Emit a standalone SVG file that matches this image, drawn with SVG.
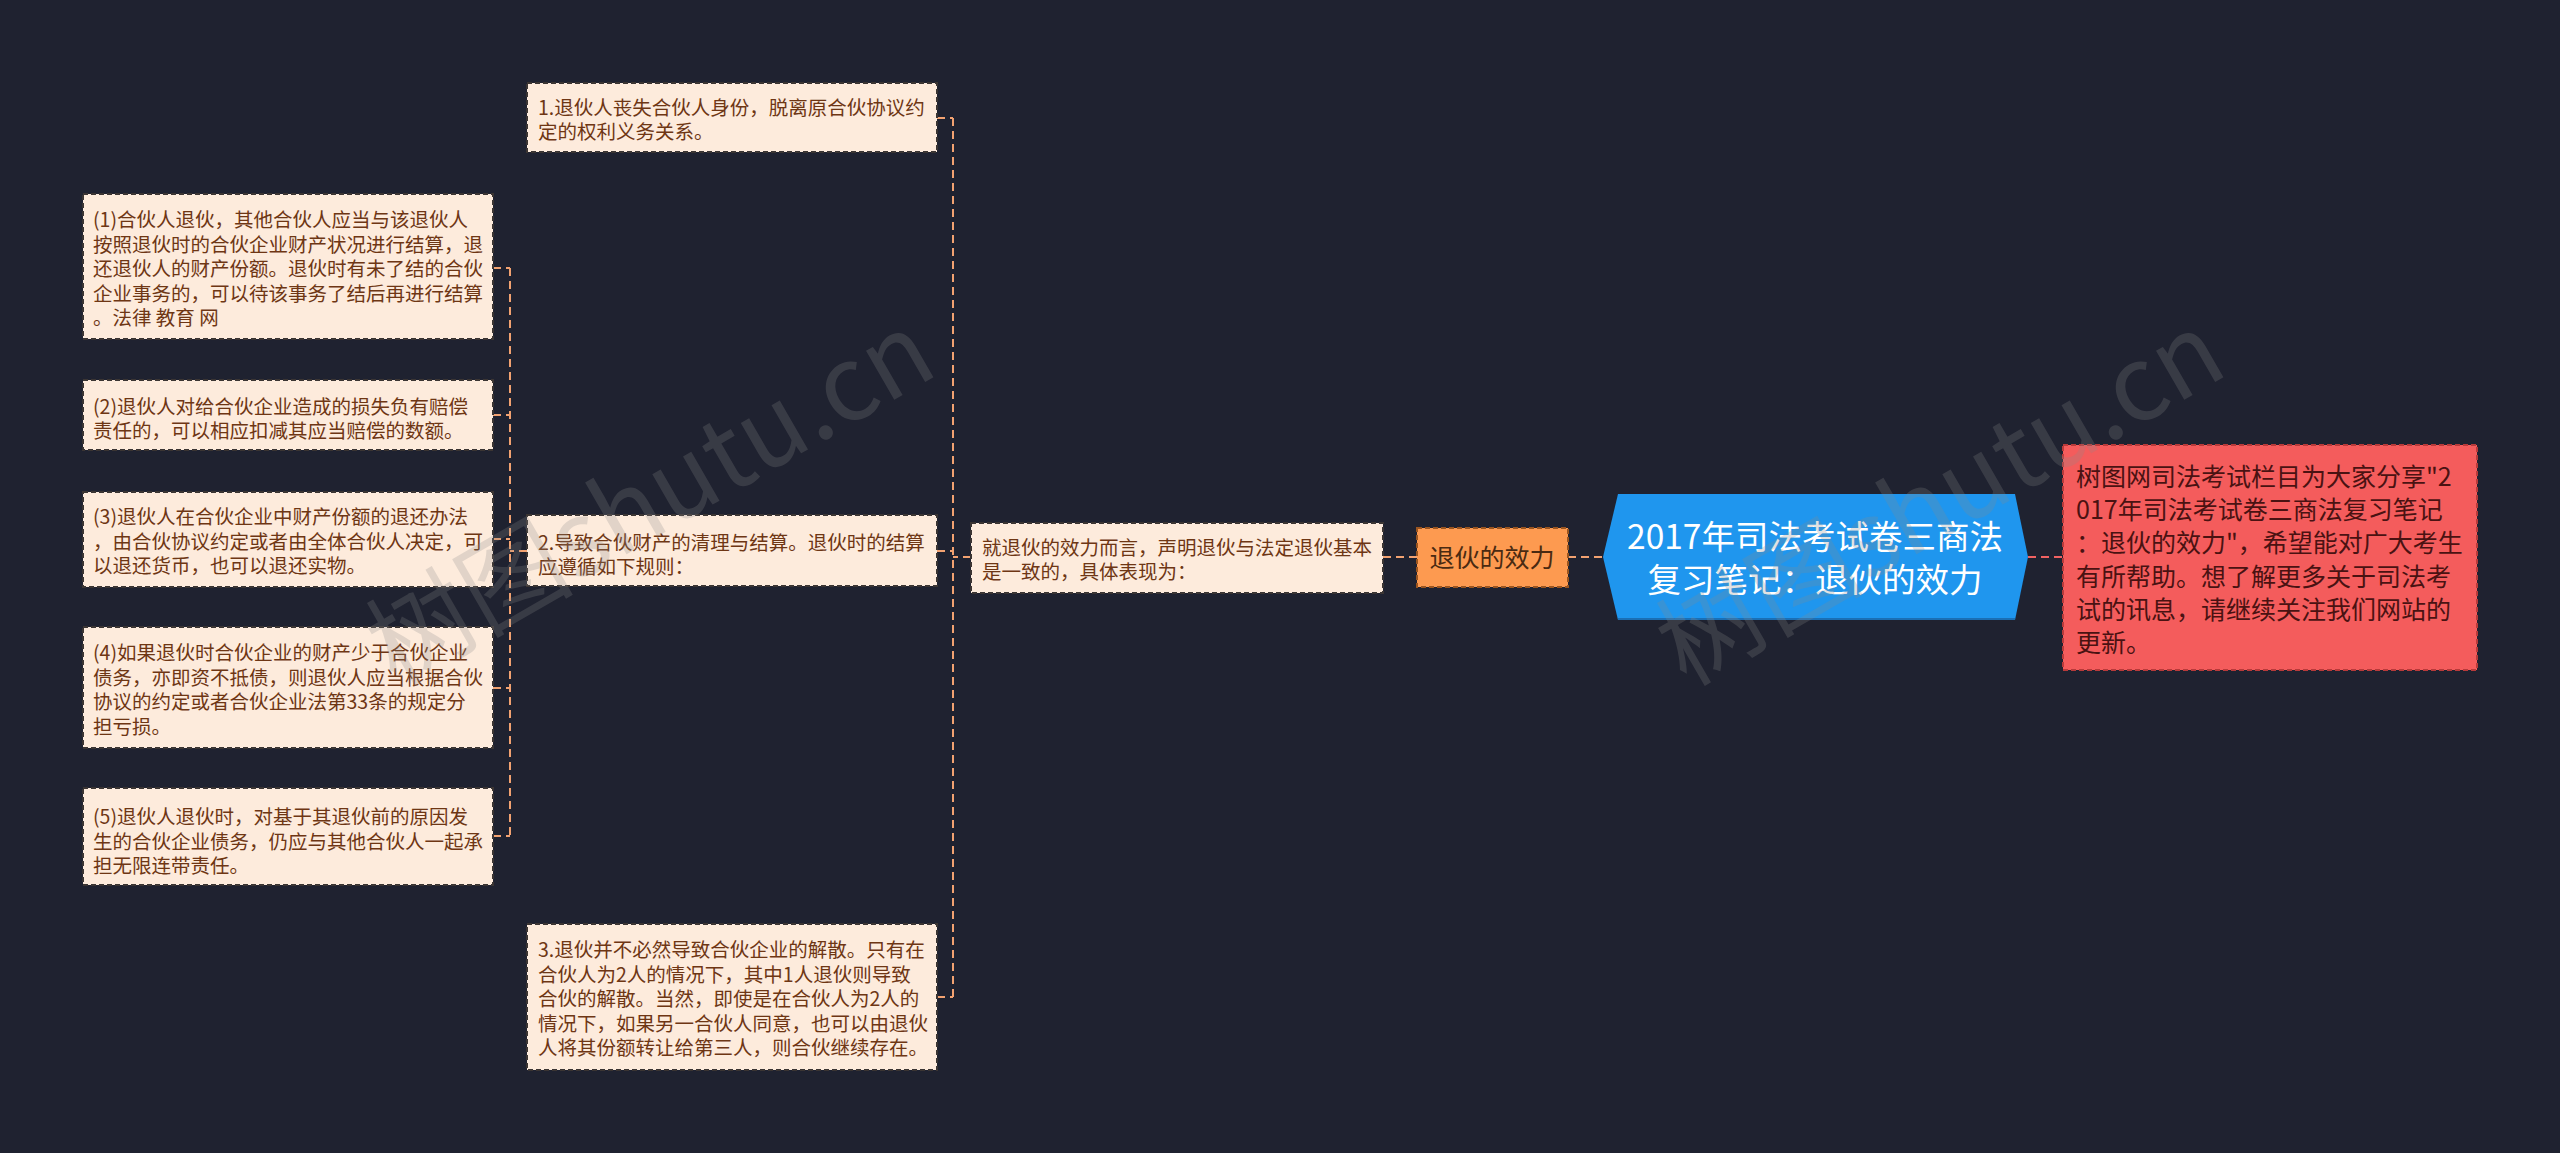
<svg xmlns="http://www.w3.org/2000/svg" width="2560" height="1153" viewBox="0 0 2560 1153">
<style>
.bg{fill:#1f2230}
.leaf{fill:#fdebdc;stroke:#3b3533;stroke-width:2;stroke-dasharray:5,3}
.lt{font-family:"Noto Sans CJK SC","Noto Sans",sans-serif;font-size:19.5px;fill:#6e3614}
.conn{fill:none;stroke:#f2a271;stroke-width:2;stroke-dasharray:8,5}
.wm{font-family:"Noto Sans CJK SC","DejaVu Sans",sans-serif;font-size:104px;font-weight:normal;fill:#8a8a8a;opacity:0.24}
</style>
<rect class="bg" x="0" y="0" width="2560" height="1153"/>
<g id="connectors">
<path class="conn" d="M1568,557 H1603"/>
<path class="conn" d="M2028,557 H2063" style="stroke:#f06262"/>
<path class="conn" d="M1383,557 H1417"/>
<path class="conn" d="M971,557 H953 M953,118 V997 M937,118 H953 M937,551 H953 M937,997 H953"/>
<path class="conn" d="M527,551 H510 M510,268 V836 M493,268 H510 M493,415 H510 M493,539 H510 M493,688 H510 M493,836 H510"/>
</g>
<g id="central">
<polygon points="1603,557 1618,494 2015,494 2028,557 2015,620 1618,620" fill="#1f96ee"/>
<path d="M1618,619 H2015" stroke="#1a6fb5" stroke-width="2"/>
<text x="1815" y="549" text-anchor="middle" font-family="Noto Sans CJK SC,sans-serif" font-size="33.5" fill="#ffffff">2017年司法考试卷三商法</text>
<text x="1815" y="592" text-anchor="middle" font-family="Noto Sans CJK SC,sans-serif" font-size="33.5" fill="#ffffff">复习笔记：退伙的效力</text>
</g>
<g id="summary">
<rect x="2063" y="445" width="414" height="225" fill="#f45c5c" stroke="#b83a3a" stroke-width="2" stroke-dasharray="5,3"/>
<g font-family="Noto Sans CJK SC,sans-serif" font-size="25" fill="#4a1212">
<text x="2076" y="486">树图网司法考试栏目为大家分享"2</text>
<text x="2076" y="519">017年司法考试卷三商法复习笔记</text>
<text x="2076" y="552">：退伙的效力"，希望能对广大考生</text>
<text x="2076" y="586">有所帮助。想了解更多关于司法考</text>
<text x="2076" y="619">试的讯息，请继续关注我们网站的</text>
<text x="2076" y="652">更新。</text>
</g>
</g>
<g id="topic">
<rect x="1417" y="528" width="151" height="59" fill="#fd9a50" stroke="#9a5520" stroke-width="2" stroke-dasharray="5,3"/>
<text x="1492" y="567" text-anchor="middle" font-family="Noto Sans CJK SC,sans-serif" font-size="25" fill="#4a2a12">退伙的效力</text>
</g>
<g id="intro">
<rect class="leaf" x="971" y="523" width="412" height="70"/>
<text class="lt" x="982" y="555">就退伙的效力而言，声明退伙与法定退伙基本</text>
<text class="lt" x="982" y="579">是一致的，具体表现为：</text>
</g>
<g id="item1">
<rect class="leaf" x="527" y="83" width="410" height="69"/>
<text class="lt" x="538" y="115">1.退伙人丧失合伙人身份，脱离原合伙协议约</text>
<text class="lt" x="538" y="139">定的权利义务关系。</text>
</g>
<g id="item2">
<rect class="leaf" x="527" y="515" width="410" height="71"/>
<text class="lt" x="538" y="550">2.导致合伙财产的清理与结算。退伙时的结算</text>
<text class="lt" x="538" y="574">应遵循如下规则：</text>
</g>
<g id="item3">
<rect class="leaf" x="527" y="924" width="410" height="146"/>
<text class="lt" x="538" y="957">3.退伙并不必然导致合伙企业的解散。只有在</text>
<text class="lt" x="538" y="981.5">合伙人为2人的情况下，其中1人退伙则导致</text>
<text class="lt" x="538" y="1006">合伙的解散。当然，即使是在合伙人为2人的</text>
<text class="lt" x="538" y="1030.5">情况下，如果另一合伙人同意，也可以由退伙</text>
<text class="lt" x="538" y="1055">人将其份额转让给第三人，则合伙继续存在。</text>
</g>
<g id="rule1">
<rect class="leaf" x="83" y="194" width="410" height="145"/>
<text class="lt" x="93" y="227">(1)合伙人退伙，其他合伙人应当与该退伙人</text>
<text class="lt" x="93" y="251.5">按照退伙时的合伙企业财产状况进行结算，退</text>
<text class="lt" x="93" y="276">还退伙人的财产份额。退伙时有未了结的合伙</text>
<text class="lt" x="93" y="300.5">企业事务的，可以待该事务了结后再进行结算</text>
<text class="lt" x="93" y="325">。法律 教育 网</text>
</g>
<g id="rule2">
<rect class="leaf" x="83" y="380" width="410" height="70"/>
<text class="lt" x="93" y="414">(2)退伙人对给合伙企业造成的损失负有赔偿</text>
<text class="lt" x="93" y="438">责任的，可以相应扣减其应当赔偿的数额。</text>
</g>
<g id="rule3">
<rect class="leaf" x="83" y="492" width="410" height="95"/>
<text class="lt" x="93" y="524">(3)退伙人在合伙企业中财产份额的退还办法</text>
<text class="lt" x="93" y="548.5">，由合伙协议约定或者由全体合伙人决定，可</text>
<text class="lt" x="93" y="573">以退还货币，也可以退还实物。</text>
</g>
<g id="rule4">
<rect class="leaf" x="83" y="627" width="410" height="121"/>
<text class="lt" x="93" y="660">(4)如果退伙时合伙企业的财产少于合伙企业</text>
<text class="lt" x="93" y="684.5">债务，亦即资不抵债，则退伙人应当根据合伙</text>
<text class="lt" x="93" y="709">协议的约定或者合伙企业法第33条的规定分</text>
<text class="lt" x="93" y="733.5">担亏损。</text>
</g>
<g id="rule5">
<rect class="leaf" x="83" y="788" width="410" height="97"/>
<text class="lt" x="93" y="824">(5)退伙人退伙时，对基于其退伙前的原因发</text>
<text class="lt" x="93" y="848.5">生的合伙企业债务，仍应与其他合伙人一起承</text>
<text class="lt" x="93" y="873">担无限连带责任。</text>
</g>
<g id="watermarks">
<text class="wm" x="650" y="535" text-anchor="middle" transform="rotate(-30 650 498)">树图shutu.cn</text>
<text class="wm" x="1940" y="535" text-anchor="middle" transform="rotate(-30 1940 498)">树图shutu.cn</text>
</g>
</svg>
